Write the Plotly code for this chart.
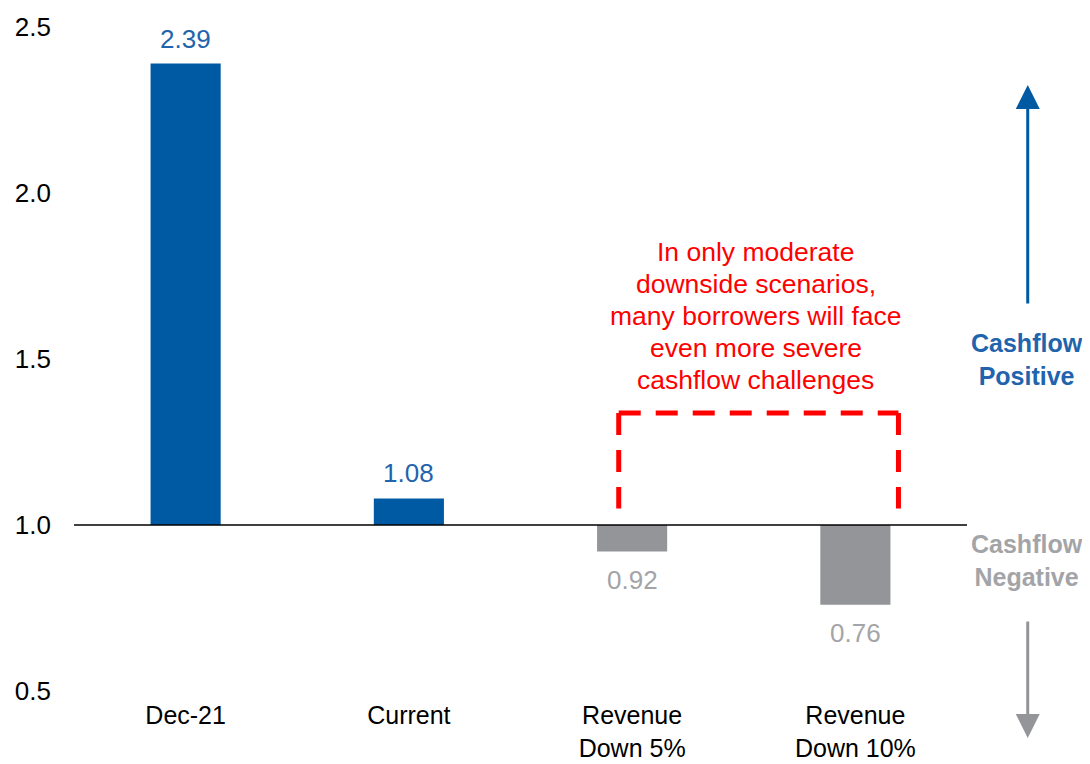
import plotly.graph_objects as go

# ---- data ----
categories = ["Dec-21", "Current", "Revenue<br>Down 5%", "Revenue<br>Down 10%"]
values = [2.39, 1.08, 0.92, 0.76]
baseline = 1.0
y_ticks = [0.5, 1.0, 1.5, 2.0, 2.5]
note_lines = ["In only moderate", "downside scenarios,", "many borrowers will face",
              "even more severe", "cashflow challenges"]

BLUE = "#005AA3"
BLUE_TXT = "#1F64AD"
GRAY = "#939598"
GRAY_TXT = "#A3A4A7"
RED = "#FF0000"
FONT = "Liberation Sans, Arial, sans-serif"

xs = list(range(len(categories)))
bar_colors = [BLUE if v >= baseline else GRAY for v in values]
txt_colors = [BLUE_TXT if v >= baseline else GRAY_TXT for v in values]

fig = go.Figure()
fig.add_trace(go.Bar(
    x=xs, y=[v - baseline for v in values], base=baseline,
    marker=dict(color=bar_colors, line=dict(width=0)),
    width=0.314, hoverinfo="skip",
))

annotations = []
for x, v, c in zip(xs, values, txt_colors):
    up = v >= baseline
    annotations.append(dict(
        x=x, y=v, xref="x", yref="y", text=f"{v:.2f}", showarrow=False,
        yanchor="bottom" if up else "top", yshift=8 if up else -11,
        font=dict(size=26, color=c, family=FONT),
    ))

# red note (one annotation per line for tight line spacing)
n = len(note_lines)
for i, line in enumerate(note_lines):
    annotations.append(dict(
        x=2.553, y=1.63, xref="x", yref="y", text=line, showarrow=False,
        xanchor="center", yanchor="middle", align="center",
        yshift=((n - 1) / 2 - i) * 32,
        font=dict(size=26.5, color=RED, family=FONT),
    ))

# side labels
annotations.append(dict(
    x=1.067, y=0.5, xref="paper", yref="paper", text="<b>Cashflow<br>Positive</b>",
    showarrow=False, xanchor="center", yanchor="middle", align="center",
    font=dict(size=25, color="#1F64AD", family=FONT),
))
annotations.append(dict(
    x=1.067, y=0.196, xref="paper", yref="paper", text="<b>Cashflow<br>Negative</b>",
    showarrow=False, xanchor="center", yanchor="middle", align="center",
    font=dict(size=25, color="#A3A4A7", family=FONT),
))
# arrows
annotations.append(dict(
    x=1.068, y=(664 - 58) / 664, xref="paper", yref="paper", text="",
    showarrow=True, ax=0, ay=220, arrowhead=2, arrowsize=1.6, arrowwidth=3,
    arrowcolor=BLUE,
))
annotations.append(dict(
    x=1.068, y=(664 - 711) / 664, xref="paper", yref="paper", text="",
    showarrow=True, ax=0, ay=-118, arrowhead=2, arrowsize=1.6, arrowwidth=3,
    arrowcolor=GRAY,
))

box_line = dict(color=RED, width=5, dash="22px,15px")
bx0, bx1, by0, by1 = 1.94, 3.193, 1.05, 1.337
shapes = [
    dict(type="line", xref="paper", yref="y", x0=0, x1=1, y0=baseline, y1=baseline,
         line=dict(color="#000000", width=1.5), layer="above"),
    dict(type="line", xref="x", yref="y", x0=bx0, x1=bx0, y0=by1, y1=by0, line=box_line),
    dict(type="line", xref="x", yref="y", x0=bx0, x1=bx1, y0=by1, y1=by1, line=box_line),
    dict(type="line", xref="x", yref="y", x0=bx1, x1=bx1, y0=by1, y1=by0, line=box_line),
]

# page body has an 8px margin; figure is sized so the page matches 1090x764
fig.update_layout(
    width=1082, height=756,
    margin=dict(l=66, r=123, t=19, b=73, autoexpand=False),
    paper_bgcolor="white", plot_bgcolor="white",
    showlegend=False,
    font=dict(family=FONT, size=26, color="#000000"),
    xaxis=dict(
        range=[-0.5, 3.5], tickmode="array", tickvals=xs, ticktext=categories,
        showgrid=False, zeroline=False, showline=False, ticks="",
        tickfont=dict(size=25, color="#000000"), ticklabelstandoff=7,
        automargin=False,
    ),
    yaxis=dict(
        range=[0.5, 2.5], tickmode="array", tickvals=y_ticks,
        ticktext=[f"{t:.1f}" for t in y_ticks],
        showgrid=False, zeroline=False, showline=False, ticks="",
        tickfont=dict(size=26, color="#000000"), ticklabelstandoff=22,
        automargin=False,
    ),
    annotations=annotations, shapes=shapes,
)

fig.write_html("out.html")
